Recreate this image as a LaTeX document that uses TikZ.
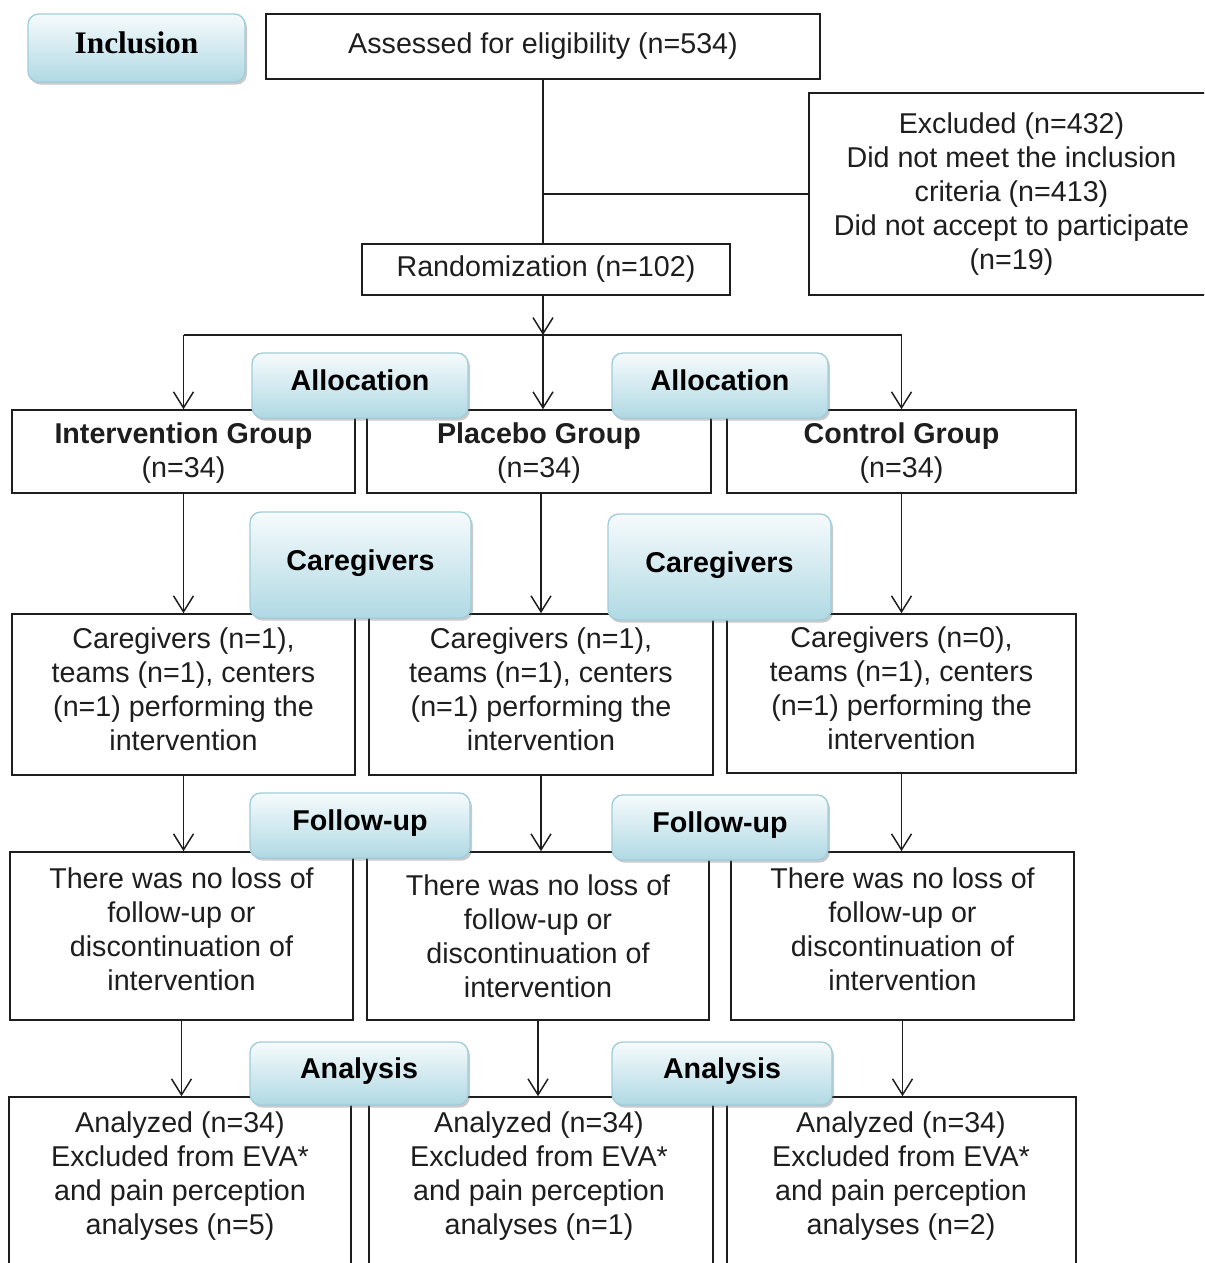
\documentclass[tikz,border=0pt]{standalone}
\usepackage{fontspec}
\setmainfont{Liberation Sans}
\newfontfamily\serifbold{Liberation Serif}
\usetikzlibrary{arrows.meta,shadows}

\definecolor{inkgray}{RGB}{30,30,30}
\definecolor{tabtop}{RGB}{246,251,252}
\definecolor{tabbot}{RGB}{176,217,228}
\definecolor{tabline}{RGB}{160,205,218}

\tikzset{every picture/.style={line width=0.75pt}}
\tikzset{
  wh/.style 2 args={minimum width=#1*0.75pt, minimum height=#2*0.75pt},
  box/.style={draw=inkgray, line width=1.2pt, inner sep=0pt, align=center, text=inkgray,
    font=\fontsize{21.5}{25.5}\selectfont},
  txt/.style={inner sep=0pt, align=center, text=inkgray, font=\fontsize{21.5}{25.5}\selectfont},
  tab/.style={draw=tabline, line width=1pt, rounded corners=8pt, inner sep=0pt,
    text height=16pt, text depth=8pt,
    top color=tabtop, bottom color=tabbot,
    drop shadow={shadow xshift=1.5pt, shadow yshift=-2pt, opacity=0.35, fill=black!60},
    font=\fontsize{21.5}{25.5}\selectfont\bfseries},
  arr/.style={draw=inkgray, line width=1.1pt, -{Straight Barb[length=12pt,width=15pt]}},
  link/.style={draw=inkgray, line width=1.1pt}
}

\begin{document}
\begin{tikzpicture}[x=0.75pt,y=0.75pt,yscale=-1,xscale=1]
	\clip (0,0) rectangle (1204,1263);
	
	%Top: eligibility and randomization
	\node[box, wh={554}{65}] (assess) at (543,46.5) {Assessed for eligibility (n=534)};
	\node[box, wh={405}{202}] (excl) at (1011.5,194) {Excluded (n=432)\\Did not meet the inclusion\\criteria (n=413)\\Did not accept to participate\\(n=19)};
	\node[box, wh={368}{51}] (rand) at (546,269.5) {Randomization (n=102)};
	\coordinate (split) at (543,335);
	
	%Groups
	\node[box, wh={343}{83}, text depth=2pt] (grpI) at (183.5,451.5) {\textbf{Intervention Group}\\(n=34)};
	\node[box, wh={344}{83}, text depth=2pt] (grpP) at (539,451.5) {\textbf{Placebo Group}\\(n=34)};
	\node[box, wh={349}{83}, text depth=2pt] (grpC) at (901.5,451.5) {\textbf{Control Group}\\(n=34)};
	
	%Caregivers
	\node[box, wh={343}{161}, text depth=7.5pt] (cgI) at (183.5,694.5) {Caregivers (n=1),\\teams (n=1), centers\\(n=1) performing the\\intervention};
	\node[box, wh={344}{161}, text depth=7.5pt] (cgP) at (541,694.5) {Caregivers (n=1),\\teams (n=1), centers\\(n=1) performing the\\intervention};
	\node[box, wh={349}{159}, text depth=7.5pt] (cgC) at (901.5,693.5) {Caregivers (n=0),\\teams (n=1), centers\\(n=1) performing the\\intervention};
	
	%Follow-up
	\node[box, wh={343}{168}, text depth=10.5pt] (fuI) at (181.5,936) {There was no loss of\\follow-up or\\discontinuation of\\intervention};
	\node[box, wh={342}{168}] (fuP) at (538,936) {There was no loss of\\follow-up or\\discontinuation of\\intervention};
	\node[box, wh={343}{168}, text depth=10.5pt] (fuC) at (902.5,936) {There was no loss of\\follow-up or\\discontinuation of\\intervention};
	
	%Analysis (boxes run past the lower edge)
	\node[box, wh={342}{203}] (anI) at (180,1198.5) {};
	\node[box, wh={344}{203}] (anP) at (541,1198.5) {};
	\node[box, wh={349}{203}] (anC) at (901.5,1198.5) {};
	\node[txt] (anI-t) at (180,1176) {Analyzed (n=34)\\Excluded from EVA*\\and pain perception\\analyses (n=5)};
	\node[txt] (anP-t) at (539,1176) {Analyzed (n=34)\\Excluded from EVA*\\and pain perception\\analyses (n=1)};
	\node[txt] (anC-t) at (901,1176) {Analyzed (n=34)\\Excluded from EVA*\\and pain perception\\analyses (n=2)};
	
	%Connectors
	\draw[link] (assess.south) -- (assess.south |- rand.north);
	\draw[link] (assess.south |- excl.west) -- (excl.west);
	\draw[arr] (split |- rand.south) -- (split);
	\draw[link] (split -| grpI.north) -- (split -| grpC.north);
	\draw[arr] (split -| grpI.north) -- (grpI.north);
	\draw[arr] (split) -- (split |- grpP.north);
	\draw[arr] (split -| grpC.north) -- (grpC.north);
	\draw[arr] (grpI.south) -- (grpI.south |- cgI.north);
	\draw[arr] (cgP.north |- grpP.south) -- (cgP.north);
	\draw[arr] (grpC.south) -- (grpC.south |- cgC.north);
	\draw[arr] (cgI.south) -- (cgI.south |- fuI.north);
	\draw[arr] (cgP.south) -- (cgP.south |- fuP.north);
	\draw[arr] (cgC.south) -- (cgC.south |- fuC.north);
	\draw[arr] (fuI.south) -- (fuI.south |- anI.north);
	\draw[arr] (fuP.south) -- (fuP.south |- anP.north);
	\draw[arr] (fuC.south) -- (fuC.south |- anC.north);
	
	%Stage tabs
	\node[tab, wh={217}{68}, font=\fontsize{23.5}{27}\selectfont\serifbold\bfseries] (tabIncl) at (136.5,48) {Inclusion};
	\node[tab, wh={216}{65}] (tabAlloc1) at (360,385.5) {Allocation};
	\node[tab, wh={216}{65}] (tabAlloc2) at (720,385.5) {Allocation};
	\node[tab, wh={221}{106}] (tabCare1) at (360.5,565) {Caregivers};
	\node[tab, wh={223}{106}] (tabCare2) at (719.5,567) {Caregivers};
	\node[tab, wh={220}{65}] (tabFollow1) at (360,825.5) {Follow-up};
	\node[tab, wh={216}{65}] (tabFollow2) at (720,827.5) {Follow-up};
	\node[tab, wh={218}{63}] (tabAnal1) at (359,1073.5) {Analysis};
	\node[tab, wh={220}{63}] (tabAnal2) at (722,1073.5) {Analysis};
	
\end{tikzpicture}
\end{document}
